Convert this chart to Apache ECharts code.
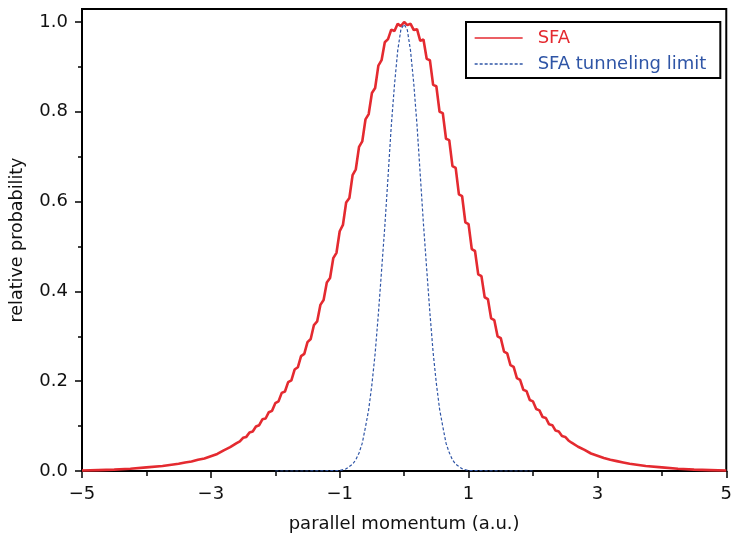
<!DOCTYPE html>
<html>
<head>
<meta charset="utf-8">
<script src="https://cdn.jsdelivr.net/npm/echarts@6/dist/echarts.min.js"></script>
<style>
  html, body { margin: 0; padding: 0; background: #fff; }
  #chart { width: 735px; height: 538px; }
</style>
</head>
<body>
<div id="chart"></div>
<script>
// Momentum grid (a.u.) and relative probability of the full SFA distribution
const sfaMomentum = [
  -5, -4.75, -4.5, -4.25, -4, -3.75, -3.5, -3.4, -3.3, -3.2, -3.1, -3.0, -2.9, -2.8, -2.7, -2.6, -2.55,
  -2.5, -2.45, -2.4, -2.35, -2.3, -2.25, -2.2, -2.15, -2.1, -2.05,
  -2.0, -1.95, -1.9, -1.85, -1.8, -1.75, -1.7, -1.65, -1.6, -1.55,
  -1.5, -1.45, -1.4, -1.35, -1.3, -1.25, -1.2, -1.15, -1.1, -1.05,
  -1.0, -0.95, -0.9, -0.85, -0.8, -0.75, -0.7, -0.65, -0.6, -0.55,
  -0.5, -0.45, -0.4, -0.35, -0.3, -0.25, -0.2, -0.15, -0.1, -0.05,
  0,
  0.05, 0.1, 0.15, 0.2, 0.25, 0.3, 0.35, 0.4, 0.45, 0.5,
  0.55, 0.6, 0.65, 0.7, 0.75, 0.8, 0.85, 0.9, 0.95, 1.0,
  1.05, 1.1, 1.15, 1.2, 1.25, 1.3, 1.35, 1.4, 1.45, 1.5,
  1.55, 1.6, 1.65, 1.7, 1.75, 1.8, 1.85, 1.9, 1.95, 2.0,
  2.05, 2.1, 2.15, 2.2, 2.25, 2.3, 2.35, 2.4, 2.45, 2.5,
  2.55, 2.6, 2.7, 2.8, 2.9, 3.0, 3.1, 3.2, 3.3, 3.4, 3.5, 3.75, 4, 4.25, 4.5, 4.75, 5
];
const sfaProbability = [
  0.001, 0.002, 0.003, 0.005, 0.008, 0.011, 0.016, 0.019, 0.021, 0.025, 0.028, 0.033, 0.038, 0.046, 0.053, 0.062, 0.066,
  0.074, 0.076, 0.086, 0.088, 0.099, 0.102, 0.115, 0.117, 0.131, 0.134,
  0.151, 0.155, 0.174, 0.177, 0.198, 0.202, 0.226, 0.231, 0.256, 0.261,
  0.287, 0.294, 0.325, 0.333, 0.370, 0.381, 0.420, 0.430, 0.474, 0.486,
  0.534, 0.548, 0.598, 0.608, 0.659, 0.672, 0.722, 0.734, 0.783, 0.795,
  0.842, 0.853, 0.903, 0.915, 0.955, 0.962, 0.983, 0.980, 0.996, 0.991,
  1.000,
  0.993, 0.996, 0.982, 0.984, 0.958, 0.961, 0.918, 0.915, 0.860, 0.857,
  0.800, 0.797, 0.740, 0.737, 0.679, 0.675, 0.616, 0.612, 0.554, 0.550,
  0.494, 0.490, 0.438, 0.434, 0.387, 0.383, 0.340, 0.336, 0.300, 0.296,
  0.266, 0.262, 0.236, 0.232, 0.207, 0.203, 0.181, 0.178, 0.158, 0.155,
  0.138, 0.135, 0.120, 0.118, 0.104, 0.102, 0.090, 0.088, 0.078, 0.076,
  0.068, 0.063, 0.054, 0.047, 0.039, 0.034, 0.029, 0.025, 0.022, 0.019, 0.016, 0.011, 0.008, 0.005, 0.003, 0.002, 0.001
];

// Tunneling-limit distribution
const tunnelMomentum = [
  -2, -1.5, -1.0, -0.9, -0.8, -0.75, -0.7, -0.65, -0.6, -0.55, -0.5, -0.45, -0.4, -0.35, -0.3, -0.25, -0.2, -0.15, -0.1, -0.05,
  0,
  0.05, 0.1, 0.15, 0.2, 0.25, 0.3, 0.35, 0.4, 0.45, 0.5, 0.55, 0.6, 0.65, 0.7, 0.75, 0.8, 0.9, 1.0, 1.5, 2
];
const tunnelProbability = [
  0, 0, 0.001, 0.005, 0.015, 0.025, 0.040, 0.062, 0.098, 0.137, 0.193, 0.262, 0.350, 0.447, 0.545, 0.655, 0.768, 0.860, 0.936, 0.984,
  0.995,
  0.982, 0.935, 0.862, 0.770, 0.660, 0.550, 0.450, 0.352, 0.264, 0.195, 0.138, 0.099, 0.062, 0.041, 0.025, 0.015, 0.005, 0.001, 0, 0
];

// Axis ticks
const xMajorTicks = [-5, -3, -1, 1, 3, 5];
const xMinorTicks = [-4, -2, 0, 2, 4];
const yMajorTicks = [0, 0.2, 0.4, 0.6, 0.8, 1.0];
const yMinorTicks = [0.1, 0.3, 0.5, 0.7, 0.9];

const seriesNames = ['SFA', 'SFA tunneling limit'];
const RED = '#e42a30';
const BLUE = '#2f55a6';
const FONT = 'DejaVu Sans';

const pairs = (xs, ys) => xs.map((x, i) => [x, ys[i]]);
const minusFmt = v => (v < 0 ? '\u2212' + Math.abs(v) : String(v));

const chart = echarts.init(document.getElementById('chart'), null, { renderer: 'canvas' });

const baseText = { fontFamily: FONT, fontSize: 18, color: '#111' };

chart.setOption({
  animation: false,
  backgroundColor: '#fff',
  grid: {
    left: 81, top: 9, width: 648, height: 467,
    show: true, borderColor: '#000', borderWidth: 2, backgroundColor: 'transparent'
  },
  legend: {
    orient: 'vertical',
    left: 466, top: 22,
    padding: [6, 14, 4, 8],
    itemGap: 6,
    itemWidth: 48, itemHeight: 14,
    backgroundColor: '#fff',
    borderColor: '#000', borderWidth: 2, borderRadius: 0,
    itemStyle: { color: 'rgba(0,0,0,0)', borderWidth: 0 },
    lineStyle: { width: 1.3 },
    textStyle: { fontFamily: FONT, fontSize: 18, lineHeight: 20, padding: [0, 0, 0, 10] },
    data: [
      { name: seriesNames[0], textStyle: { color: RED } },
      { name: seriesNames[1], textStyle: { color: BLUE } }
    ]
  },
  xAxis: [
    {
      type: 'value', min: -5, max: 5, position: 'bottom',
      name: 'parallel momentum (a.u.)', nameLocation: 'middle', nameGap: 44,
      nameTextStyle: baseText,
      axisLine: { show: true, onZero: false, lineStyle: { color: '#000', width: 2 } },
      axisTick: { show: true, inside: false, length: 7, customValues: xMajorTicks, lineStyle: { color: '#000', width: 1.5 } },
      axisLabel: { show: true, margin: 14, customValues: xMajorTicks, formatter: minusFmt, ...baseText },
      splitLine: { show: false }
    },
    {
      type: 'value', min: -5, max: 5, position: 'bottom',
      axisLine: { show: false, onZero: false },
      axisTick: { show: true, inside: false, length: 5, customValues: xMinorTicks, lineStyle: { color: '#000', width: 1.5 } },
      axisLabel: { show: false },
      splitLine: { show: false }
    }
  ],
  yAxis: [
    {
      type: 'value', min: 0, max: 1.029, position: 'left',
      name: 'relative probability', nameLocation: 'middle', nameGap: 56, nameRotate: 90,
      nameTextStyle: { ...baseText, fontSize: 17.5 },
      axisLine: { show: true, onZero: false, lineStyle: { color: '#000', width: 2 } },
      axisTick: { show: true, inside: false, length: 7, customValues: yMajorTicks, lineStyle: { color: '#000', width: 1.5 } },
      axisLabel: { show: true, margin: 14, customValues: yMajorTicks, formatter: v => v.toFixed(1), ...baseText },
      splitLine: { show: false }
    },
    {
      type: 'value', min: 0, max: 1.029, position: 'left',
      axisLine: { show: false, onZero: false },
      axisTick: { show: true, inside: false, length: 4, customValues: yMinorTicks, lineStyle: { color: '#000', width: 1.5 } },
      axisLabel: { show: false },
      splitLine: { show: false }
    }
  ],
  series: [
    {
      name: seriesNames[0], type: 'line', xAxisIndex: 0, yAxisIndex: 0,
      symbol: 'none', showSymbol: false, z: 3,
      lineStyle: { color: RED, width: 2.6 },
      itemStyle: { color: RED },
      data: pairs(sfaMomentum, sfaProbability)
    },
    {
      name: seriesNames[1], type: 'line', xAxisIndex: 0, yAxisIndex: 0,
      symbol: 'none', showSymbol: false, z: 4,
      lineStyle: { color: BLUE, width: 1.2, type: [3, 2] },
      itemStyle: { color: BLUE },
      data: pairs(tunnelMomentum, tunnelProbability)
    }
  ]
});
</script>
</body>
</html>
